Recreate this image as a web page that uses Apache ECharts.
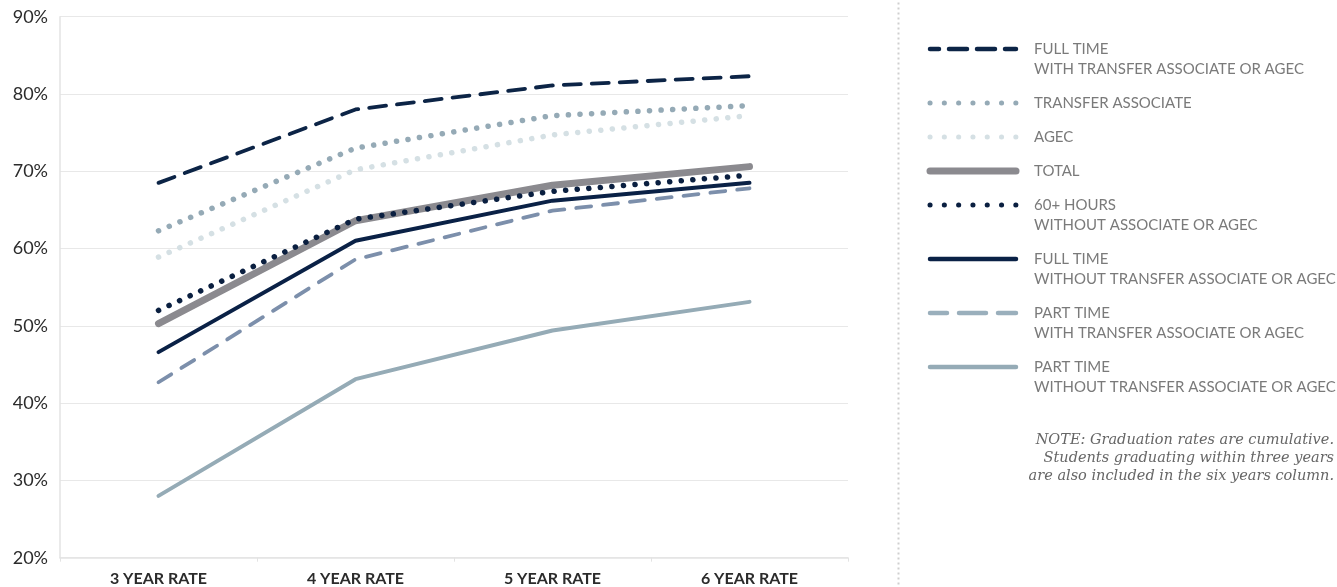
<!DOCTYPE html>
<html>
<head>
<meta charset="utf-8">
<script src="https://cdn.jsdelivr.net/npm/echarts@6/dist/echarts.min.js"></script>
<style>
html,body{margin:0;padding:0;background:#fff;}
#chart{width:1337px;height:587px;}
</style>
</head>
<body>
<div id="chart"></div>
<script>
const categories = ['3 YEAR RATE', '4 YEAR RATE', '5 YEAR RATE', '6 YEAR RATE'];
const yTicks = [20, 30, 40, 50, 60, 70, 80, 90];

const fullTimeWith = [68.5, 78.0, 81.1, 82.3];
const transferAssociate = [62.3, 73.0, 77.2, 78.5];
const agec = [58.9, 70.2, 74.7, 77.2];
const total = [50.3, 63.6, 68.2, 70.6];
const sixtyPlus = [52.0, 63.8, 67.4, 69.5];
const fullTimeWithout = [46.6, 61.0, 66.2, 68.5];
const partTimeWith = [42.7, 58.6, 64.9, 67.8];
const partTimeWithout = [28.0, 43.1, 49.4, 53.1];

const seriesNames = ['FULL TIME', 'TRANSFER ASSOCIATE', 'AGEC', 'TOTAL', '60+ HOURS', 'FULL TIME', 'PART TIME', 'PART TIME'];
const seriesSubNames = ['WITH TRANSFER ASSOCIATE OR AGEC', '', '', '', 'WITHOUT ASSOCIATE OR AGEC', 'WITHOUT TRANSFER ASSOCIATE OR AGEC', 'WITH TRANSFER ASSOCIATE OR AGEC', 'WITHOUT TRANSFER ASSOCIATE OR AGEC'];
const noteLines = ['NOTE: Graduation rates are cumulative.', 'Students graduating within three years', 'are also included in the six years column.'];

const seriesData = [fullTimeWith, transferAssociate, agec, total, sixtyPlus, fullTimeWithout, partTimeWith, partTimeWithout];
const styles = [
  {color: '#0c2446', width: 3.8, type: [17, 11], z: 5},
  {color: '#95aab6', width: 5.5, type: [0.1, 11.5], z: 4},
  {color: '#d5e0e4', width: 5.5, type: [0.1, 11.5], z: 3},
  {color: '#8b8a8f', width: 7, type: 'solid', z: 1},
  {color: '#0a1f40', width: 5.5, type: [0.1, 11.5], z: 6},
  {color: '#0a2146', width: 4, type: 'solid', z: 5},
  {color: '#7c8fab', width: 3.8, type: [15, 12], z: 4},
  {color: '#95abb6', width: 4, type: 'solid', z: 4}
];
const legendStyles = [
  {color: '#0c2446', width: 4.5, dash: [18, 10], offset: 9},
  {color: '#95aab6', width: 5, dash: [0.1, 14.2], offset: 0},
  {color: '#d5e0e4', width: 5, dash: [0.1, 14.2], offset: 0},
  {color: '#8b8a8f', width: 7, dash: null, offset: 0},
  {color: '#0a1f40', width: 5, dash: [0.1, 14.2], offset: 0},
  {color: '#0a2146', width: 4.5, dash: null, offset: 0},
  {color: '#9aafbc', width: 4.5, dash: [27, 12], offset: 10},
  {color: '#95abb6', width: 4.5, dash: null, offset: 0}
];
const legendRowY = [49, 103, 137, 171, 205, 259, 313, 367];

const chart = echarts.init(document.getElementById('chart'), null, {renderer: 'canvas'});

const series = seriesData.map((d, i) => ({
  name: seriesNames[i] + (seriesSubNames[i] ? ' ' + seriesSubNames[i] : ''),
  type: 'line',
  data: d,
  symbol: 'none',
  z: styles[i].z,
  lineStyle: {color: styles[i].color, width: styles[i].width, type: styles[i].type, cap: 'round', join: 'round'},
  emphasis: {disabled: true},
  animation: false
}));

const graphics = [];
graphics.push({
  type: 'line', left: 896, top: 0, silent: true,
  shape: {x1: 0, y1: 0, x2: 0, y2: 587},
  style: {stroke: '#cfcfcf', lineWidth: 2, lineDash: [2, 3]}
});
legendStyles.forEach((s, i) => {
  graphics.push({
    type: 'line', silent: true, x: 0, y: 0,
    shape: {x1: 930, y1: legendRowY[i], x2: 1016, y2: legendRowY[i]},
    style: {stroke: s.color, lineWidth: s.width, lineDash: s.dash, lineDashOffset: s.offset, lineCap: 'round'}
  });
  graphics.push({
    type: 'text', silent: true, x: 1034, y: legendRowY[i] - 10,
    style: {text: seriesNames[i] + (seriesSubNames[i] ? '\n' + seriesSubNames[i] : ''), fill: '#7a7a7a', font: '15px Lato', lineHeight: 20}
  });
});
noteLines.forEach((t, i) => {
  graphics.push({
    type: 'text', silent: true, x: 1334, y: 440 + i * 18,
    style: {text: t, fill: '#666', font: 'italic 14.5px "DejaVu Serif"', align: 'right', verticalAlign: 'middle'}
  });
});

chart.setOption({
  animation: false,
  grid: {left: 60, right: 489, top: 16.7, bottom: 29.3, containLabel: false},
  xAxis: {
    type: 'category',
    data: categories,
    boundaryGap: true,
    axisLine: {show: true, lineStyle: {color: '#e3e3e3', width: 1.5}},
    axisTick: {show: true, length: 4, lineStyle: {color: '#e3e3e3'}},
    axisLabel: {color: '#2b2b2b', fontFamily: 'Lato', fontSize: 16, fontWeight: 'bold', margin: 13}
  },
  yAxis: {
    type: 'value',
    min: yTicks[0],
    max: yTicks[yTicks.length - 1],
    interval: 10,
    axisLine: {show: true, lineStyle: {color: '#e3e3e3', width: 1.5}},
    axisTick: {show: false},
    splitLine: {show: true, lineStyle: {color: '#e8e8e8', width: 1.2}},
    axisLabel: {color: '#2b2b2b', fontFamily: 'Lato', fontSize: 18, margin: 12, formatter: '{value}%'}
  },
  series: series,
  graphic: graphics
});
</script>
</body>
</html>
